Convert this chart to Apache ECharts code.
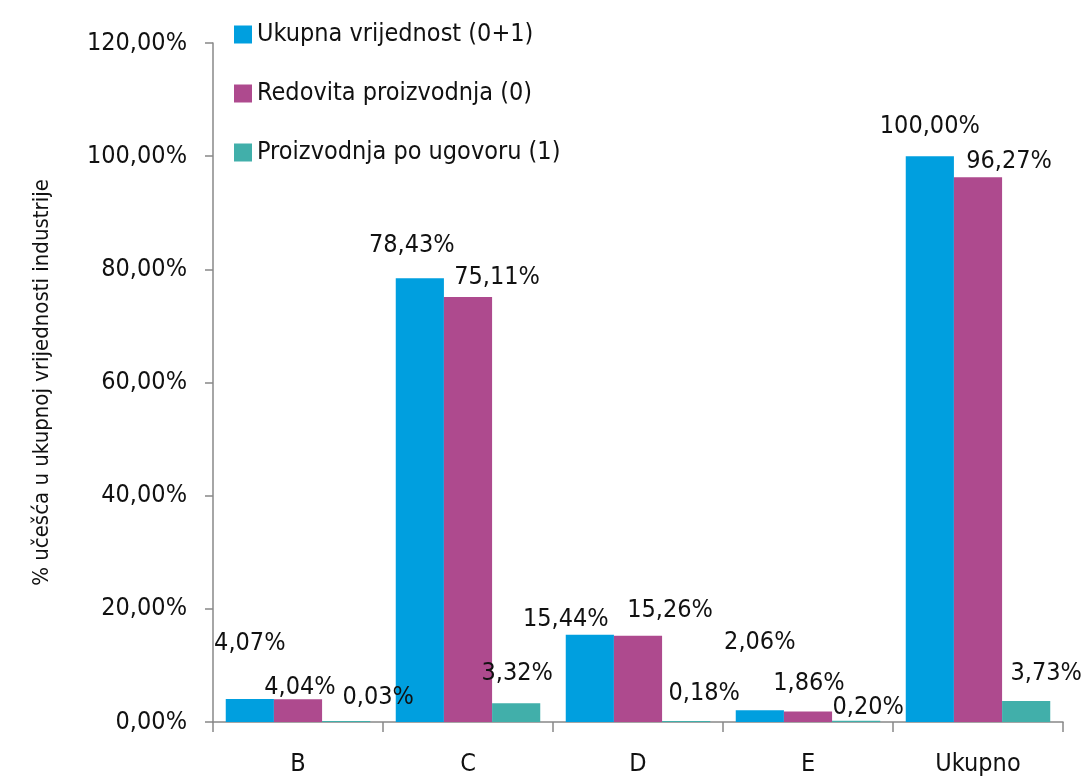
<!DOCTYPE html>
<html>
<head>
<meta charset="utf-8">
<script src="https://cdn.jsdelivr.net/npm/echarts@6/dist/echarts.min.js"></script>
<style>
  html, body { margin: 0; padding: 0; background: #fff; }
  #chart { width: 1082px; height: 778px; }
</style>
</head>
<body>
<div id="chart"></div>
<script>
// kategorije i vrijednosti (%)
var categories = ['B', 'C', 'D', 'E', 'Ukupno'];
var seriesNames = ['Ukupna vrijednost (0+1)', 'Redovita proizvodnja (0)', 'Proizvodnja po ugovoru (1)'];
var ukupna = [4.07, 78.43, 15.44, 2.06, 100.00];
var redovita = [4.04, 75.11, 15.26, 1.86, 96.27];
var poUgovoru = [0.03, 3.32, 0.18, 0.20, 3.73];

// ručno pomaknute oznake (kao u originalu)
var labelOffsets = [
    [[0, -38], [-8, -15], [-24, 2], [0, -50], [0, -12]],
    [[2, 6], [29, -2], [32, -8], [1, -10], [31, 2]],
    [[32, -6], [1, -12], [18, -10], [12, 4], [20, -10]]
];

var FONT = "'Liberation Sans Narrow', 'DejaVu Sans Condensed', sans-serif";
var colors = ['#009fdf', '#ae4a8e', '#41afaa'];

function fmt (v) {
    return v.toFixed(2).replace('.', ',') + '%';
}

function buildSeries (idx, values) {
    return {
        name: seriesNames[idx],
        type: 'bar',
        barGap: 0,
        barCategoryGap: '15%',
        barMinHeight: 1,
        itemStyle: { color: colors[idx] },
        data: values.map(function (v, i) {
            return {
                value: v,
                label: { offset: labelOffsets[idx][i] }
            };
        }),
        label: {
            show: true,
            position: 'top',
            distance: 5,
            color: '#111',
            fontFamily: FONT,
            fontSize: 25,
            formatter: function (p) { return fmt(p.value); }
        }
    };
}

var chart = echarts.init(document.getElementById('chart'));
chart.setOption({
    animation: false,
    textStyle: { fontFamily: FONT },
    legend: {
        orient: 'vertical',
        left: 229,
        top: 17,
        itemWidth: 18,
        itemHeight: 18,
        itemGap: 34,
        icon: 'rect',
        textStyle: { fontSize: 25, color: '#111', fontFamily: FONT },
        data: seriesNames
    },
    grid: { left: 213, right: 19, top: 43, bottom: 56, containLabel: false },
    xAxis: {
        type: 'category',
        data: categories,
        axisLine: { lineStyle: { color: '#888', width: 1.5 } },
        axisTick: { show: true, length: 10, lineStyle: { color: '#888', width: 1.5 } },
        axisLabel: { fontSize: 25, color: '#111', fontFamily: FONT, margin: 30 }
    },
    yAxis: {
        type: 'value',
        min: 0,
        max: 120,
        interval: 20,
        name: '% učešća u ukupnoj vrijednosti industrije',
        nameLocation: 'middle',
        nameGap: 160,
        nameTextStyle: { fontSize: 22, color: '#111', fontFamily: FONT },
        axisLine: { show: true, lineStyle: { color: '#888', width: 1.5 } },
        axisTick: { show: true, length: 8, lineStyle: { color: '#888', width: 1.5 } },
        splitLine: { show: false },
        axisLabel: {
            fontSize: 25,
            color: '#111',
            fontFamily: FONT,
            margin: 26,
            formatter: fmt
        }
    },
    series: [
        buildSeries(0, ukupna),
        buildSeries(1, redovita),
        buildSeries(2, poUgovoru)
    ]
});
</script>
</body>
</html>
